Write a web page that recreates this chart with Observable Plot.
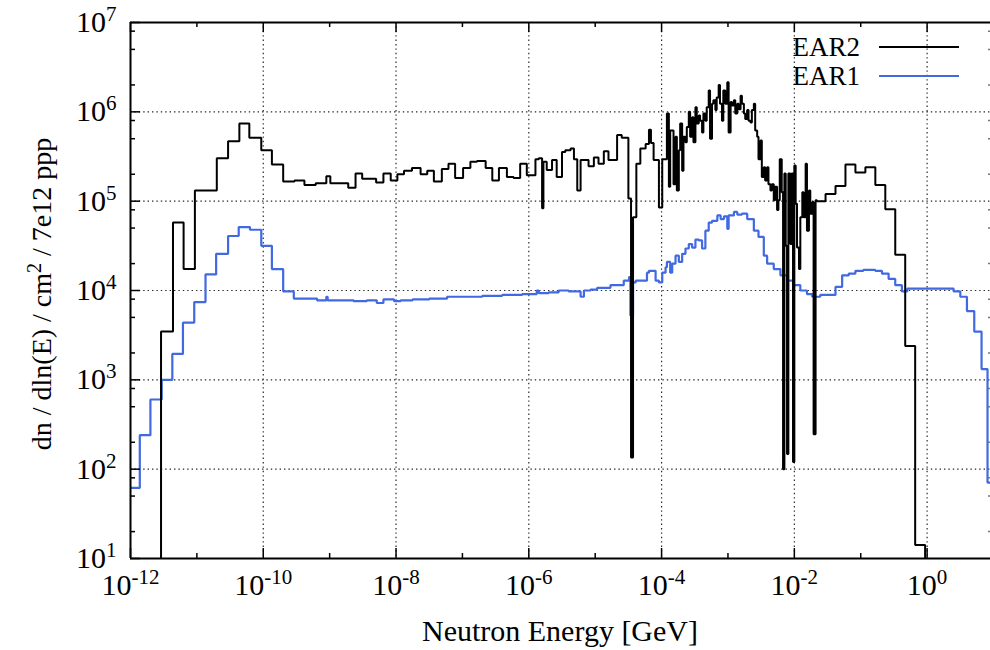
<!DOCTYPE html>
<html><head><meta charset="utf-8">
<script src="https://cdn.jsdelivr.net/npm/d3@7"></script>
<script src="https://cdn.jsdelivr.net/npm/@observablehq/plot@0.6"></script>
<style>
html,body{margin:0;padding:0;background:#fff;}
#chart svg{display:block;}
#chart svg text, #chart svg tspan{font-family:"Liberation Serif","DejaVu Serif",serif !important;}
</style></head><body>
<div id="chart"></div>
<script>
// ---- Data (log10 of energy in GeV, log10 of dn/dln(E)), step histograms ----
const ear2LogE = [-11.76,-11.54,-11.36,-11.20,-11.03,-10.70,-10.53,-10.36,-10.21,-10.03,-9.87,-9.70,-9.53,-9.38,-9.21,-9.05,-8.99,-8.72,-8.61,-8.51,-8.30,-8.19,-8.08,-7.98,-7.88,-7.76,-7.63,-7.53,-7.43,-7.31,-7.21,-7.11,-6.99,-6.88,-6.78,-6.65,-6.55,-6.45,-6.33,-6.23,-6.13,-6.03,-5.90,-5.85,-5.80,-5.78,-5.73,-5.65,-5.58,-5.50,-5.45,-5.37,-5.32,-5.27,-5.22,-5.10,-5.02,-4.95,-4.87,-4.80,-4.67,-4.60,-4.50,-4.46,-4.43,-4.38,-4.32,-4.24,-4.19,-4.16,-4.12,-4.04,-3.99,
  -3.92,-3.89,-3.87,-3.82,-3.79,-3.77,-3.74,-3.72,-3.69,-3.67,-3.64,-3.62,-3.59,-3.57,-3.54,-3.52,-3.49,-3.47,-3.44,-3.42,-3.39,-3.37,-3.34,-3.32,-3.29,-3.27,-3.24,-3.22,-3.19,-3.17,-3.14,-3.12,-3.09,-3.07,-3.04,-3.01,-2.99,-2.96,-2.94,-2.91,-2.89,-2.86,-2.84,-2.81,-2.79,-2.76,-2.74,-2.71,-2.69,-2.66,-2.64,-2.61,-2.59,-2.56,-2.54,-2.51,-2.49,-2.46,-2.44,-2.41,-2.39,-2.36,-2.34,-2.31,-2.29,-2.26,-2.24,-2.22,-2.19,-2.17,-2.15,-2.13,-2.11,-2.09,-2.06,-2.04,-2.02,-2.00,-1.98,-1.96,-1.93,-1.91,-1.88,-1.86,-1.83,-1.81,-1.78,-1.76,-1.73,-1.71,-1.68,-1.66,-1.53,-1.38,-1.23,-1.08,-0.93,-0.78,-0.63,-0.48,-0.33,-0.18,-0.03,0.30];
const ear2LogFlux = [-1,3.54,4.76,4.24,5.12,5.48,5.67,5.87,5.71,5.57,5.41,5.22,5.23,5.18,5.20,5.28,5.20,5.15,5.31,5.25,5.21,5.31,5.23,5.30,5.34,5.37,5.30,5.34,5.22,5.36,5.42,5.26,5.37,5.44,5.45,5.37,5.23,5.37,5.27,5.26,5.42,5.29,5.47,5.48,4.92,5.44,5.35,5.46,5.27,5.55,5.57,5.59,5.47,5.12,5.46,5.39,5.49,5.42,5.56,5.46,5.74,5.71,5.03,2.13,4.82,5.42,5.59,5.64,5.80,5.65,5.46,4.93,5.47,
  5.98,5.16,5.79,5.19,5.72,5.12,5.57,5.87,5.34,5.72,5.66,5.83,6.00,5.72,5.94,5.66,6.05,5.87,5.96,5.90,5.77,5.98,5.90,6.05,6.24,5.70,6.09,6.13,6.02,6.16,6.30,6.09,5.90,6.24,6.09,6.33,5.77,6.11,6.07,6.13,5.98,6.09,6.03,6.18,6.09,5.98,5.92,6.02,5.90,5.88,6.02,6.09,5.79,5.72,5.47,5.68,5.27,5.38,5.23,5.38,5.19,5.12,5.19,5.01,5.16,4.90,5.01,5.47,5.10,2.00,5.31,4.50,2.17,5.31,4.52,5.31,2.08,5.40,4.97,4.48,4.24,4.82,5.10,4.82,5.42,4.67,5.12,4.86,4.99,2.39,5.01,5.00,5.08,5.17,5.41,5.32,5.38,5.18,4.91,4.40,3.38,1.15,-1,-1];

const ear1LogE = [-12.00,-11.86,-11.70,-11.53,-11.37,-11.21,-11.04,-10.87,-10.71,-10.53,-10.37,-10.20,-10.03,-9.87,-9.70,-9.54,-9.19,-9.05,-9.03,-8.64,-8.44,-8.29,-8.19,-8.03,-7.93,-7.75,-7.50,-7.23,-7.00,-6.70,-6.40,-6.10,-5.88,-5.85,-5.70,-5.55,-5.40,-5.22,-5.17,-5.07,-4.97,-4.77,-4.57,-4.49,-4.47,-4.43,-4.39,-4.22,-4.19,-4.09,-4.04,-3.99,-3.94,-3.92,-3.87,-3.84,-3.79,-3.74,-3.69,-3.64,-3.59,-3.54,-3.49,-3.44,-3.39,-3.34,-3.29,-3.24,-3.16,-3.11,-3.06,-3.01,-2.99,-2.91,-2.86,-2.79,-2.71,-2.61,-2.54,-2.46,-2.41,-2.31,-2.21,-2.11,-2.01,-1.91,-1.81,-1.73,-1.61,-1.38,-1.28,-1.18,-1.08,-0.96,-0.78,-0.68,-0.58,-0.48,-0.38,-0.30,0.00,0.40,0.50,0.60,0.71,0.82,0.91,1.00];
const ear1LogFlux = [1.79,2.38,2.78,3.00,3.29,3.64,3.87,4.18,4.41,4.61,4.71,4.68,4.50,4.24,3.99,3.91,3.89,3.93,3.89,3.88,3.89,3.86,3.90,3.88,3.89,3.90,3.91,3.93,3.93,3.94,3.95,3.96,4.00,3.97,3.98,4.00,3.99,3.93,4.00,4.01,4.03,4.06,4.11,4.15,3.72,4.09,4.11,4.20,4.22,4.11,4.09,4.20,4.26,4.32,4.20,4.30,4.39,4.32,4.41,4.47,4.52,4.48,4.57,4.56,4.47,4.67,4.76,4.78,4.84,4.80,4.83,4.69,4.84,4.88,4.85,4.86,4.80,4.67,4.60,4.39,4.30,4.24,4.17,4.11,4.06,4.00,3.96,3.93,3.95,4.04,4.17,4.19,4.22,4.23,4.22,4.19,4.13,4.06,3.99,4.02,4.02,3.99,3.93,3.77,3.54,3.12,1.85,1.85];

const seriesNames = ["EAR2", "EAR1"];
const seriesColors = ["#000000", "#4169e1"];
const xMajorTicks = [1e-12, 1e-10, 1e-8, 1e-6, 1e-4, 1e-2, 1e0];
const xMinorTicks = [1e-11, 1e-9, 1e-7, 1e-5, 1e-3, 1e-1];
const yMajorTicks = [1e1, 1e2, 1e3, 1e4, 1e5, 1e6, 1e7];
const yMinorFactors = [2, 5, 8];
const xLabel = "Neutron Energy [GeV]";
const yLabelParts = ["dn / dln(E) / cm", "2", " / 7e12 ppp"];

// ---- Build tables ----
const ear2 = ear2LogE.map((e, i) => ({E: 10 ** e, flux: 10 ** ear2LogFlux[i]}));
const ear1 = ear1LogE.map((e, i) => ({E: 10 ** e, flux: 10 ** ear1LogFlux[i]}));
const yMinorTicks = yMajorTicks.slice(0, -1).flatMap(d => yMinorFactors.map(k => d * k));
const supLabel = d => "10^" + Math.round(Math.log10(d));

const FONT = "'Liberation Serif', 'DejaVu Serif', serif";
const gridStyle = {stroke: "#000", strokeOpacity: 0.85, strokeWidth: 1.2, strokeDasharray: "1.4,3"};
const frameH = 536, frameW = 860;

const plot = Plot.plot({
  width: 990, height: 650,
  marginLeft: 130, marginRight: 0, marginTop: 22, marginBottom: 92,
  style: {fontFamily: FONT, background: "#fff"},
  x: {type: "log", domain: [1e-12, 10], range: [130, 993], axis: null},
  y: {type: "log", domain: [10, 1e7], range: [558, 22], axis: null},
  marks: [
    Plot.ruleX(xMajorTicks.slice(1), gridStyle),
    Plot.ruleY(yMajorTicks.slice(1, -1), {...gridStyle, x1: 1e-12, x2: 10}),
    Plot.line(ear1, {x: "E", y: "flux", curve: "step-after", stroke: seriesColors[1], strokeWidth: 2.2, strokeLinejoin: "miter", clip: true}),
    Plot.line(ear2, {x: "E", y: "flux", curve: "step-after", stroke: seriesColors[0], strokeWidth: 2, strokeLinejoin: "miter", clip: true}),
    // frame
    Plot.ruleX([1e-12], {stroke: "#000", strokeWidth: 2}),
    Plot.ruleY([10, 1e7], {x1: 1e-12, x2: 10, stroke: "#000", strokeWidth: 2}),
    // ticks (inward)
    Plot.ruleX(xMajorTicks, {insetTop: frameH - 10, stroke: "#000", strokeWidth: 1.5}),
    Plot.ruleX(xMajorTicks, {insetBottom: frameH - 10, stroke: "#000", strokeWidth: 1.5}),
    Plot.ruleX(xMinorTicks, {insetTop: frameH - 5, stroke: "#000", strokeWidth: 1.5}),
    Plot.ruleX(xMinorTicks, {insetBottom: frameH - 5, stroke: "#000", strokeWidth: 1.5}),
    Plot.ruleY(yMajorTicks, {insetRight: frameW - 10, stroke: "#000", strokeWidth: 1.5}),
    Plot.ruleY(yMinorTicks, {insetRight: frameW - 5, stroke: "#000", strokeWidth: 1.5}),
    Plot.ruleY(yMinorTicks, {insetLeft: frameW - 2, stroke: "#777", strokeWidth: 1.5}),
    // tick labels
    Plot.text(xMajorTicks, {x: d => d, frameAnchor: "bottom", dy: 36, text: supLabel, fontSize: 30, fontFamily: FONT, fill: "#000"}),
    Plot.text(yMajorTicks, {y: d => d, frameAnchor: "left", dx: -14, textAnchor: "end", text: supLabel, fontSize: 30, fontFamily: FONT, fill: "#000"})
  ]
});

// superscripts in tick labels
d3.select(plot).selectAll("text").each(function() {
  const m = /^10\^(-?\d+)$/.exec(this.textContent);
  if (!m) return;
  const el = d3.select(this);
  el.text(null);
  el.append("tspan").text("10");
  el.append("tspan").attr("dy", -11).style("font-size", "21px").text(m[1]);
});

const svg = d3.select(plot);
// axis titles
svg.append("text").attr("x", 560).attr("y", 641).attr("text-anchor", "middle")
  .style("font-family", FONT).style("font-size", "30px").text(xLabel);
const yt = svg.append("text").attr("transform", "translate(51,294) rotate(-90)")
  .attr("text-anchor", "middle").style("font-family", FONT).style("font-size", "28px");
yt.append("tspan").text(yLabelParts[0]);
yt.append("tspan").attr("dy", -10).style("font-size", "20px").text(yLabelParts[1]);
yt.append("tspan").attr("dy", 10).text(yLabelParts[2]);

// legend
seriesNames.forEach((name, i) => {
  const cy = 47 + i * 29;
  svg.append("text").attr("x", 860).attr("y", cy).attr("dy", "0.34em").attr("text-anchor", "end")
    .style("font-family", FONT).style("font-size", "27px").text(name);
  svg.append("line").attr("x1", 879).attr("x2", 959).attr("y1", cy).attr("y2", cy)
    .attr("stroke", seriesColors[i]).attr("stroke-width", 2.2);
});

document.getElementById("chart").append(plot);
</script>
</body></html>
